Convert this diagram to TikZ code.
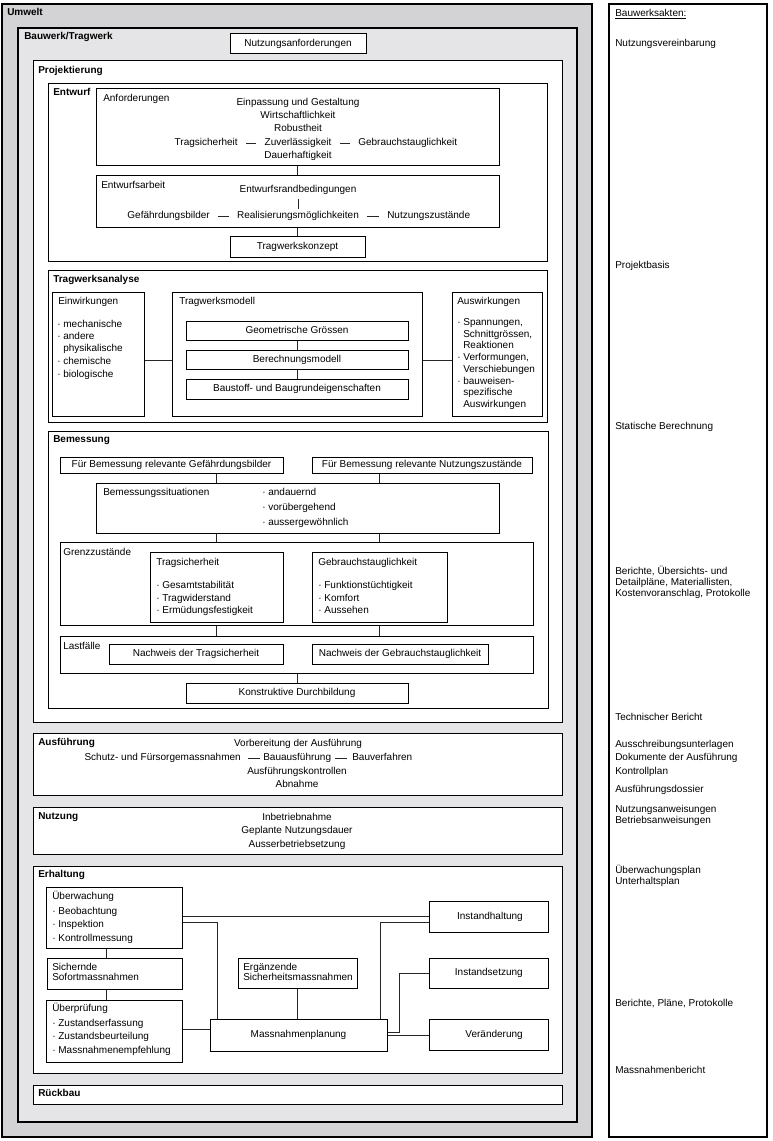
\documentclass[tikz,border=0pt]{standalone}
\usepackage{fontspec}
\setmainfont{Liberation Sans}
\usetikzlibrary{fit}
\definecolor{umg}{RGB}{211,211,213}
\definecolor{bwg}{RGB}{229,229,231}
\newcommand\mkbox[7][]{\node[boxst,#1,fit={(#3,#4)(#5,#6)}] (#2) {};
  \node[tx] (#2T) at (#2.center) {#7};}
\begin{document}
\begin{tikzpicture}[x=0.75pt,y=-0.75pt,
  boxst/.style={draw=black, line width=0.75pt, fill=white, inner sep=0pt},
  tx/.style={inner sep=0pt, font=\fontsize{7.5pt}{9pt}\selectfont, text height=5.4pt, text depth=1.6pt},
  lt/.style={tx, anchor=west},
  hd/.style={lt, font=\fontsize{7.5pt}{9pt}\selectfont\bfseries},
  con/.style={draw=black!85, line width=0.6pt},
  dsh/.style={con, shorten <=6pt, shorten >=6pt}]
\useasboundingbox (0,0) rectangle (772,1141);

% ---------- containers
\mkbox[fill=umg, line width=0.9pt]{umw}{2}{4}{592}{1137}{}
\node[hd] (umwL) at (7,13) {Umwelt};
\mkbox[fill=bwg, line width=0.9pt]{bw}{18}{28}{577}{1122}{}
\node[hd] (bwL) at (24,37) {Bauwerk/Tragwerk};
\mkbox{nutzanf}{230}{34}{366}{54}{Nutzungsanforderungen}
\mkbox{proj}{33}{61}{562}{722}{}
\node[hd] (projL) at (38,71) {Projektierung};

% ---------- Entwurf
\mkbox{entw}{48}{84}{547}{261}{}
\node[hd] (entwL) at (53,93) {Entwurf};
\mkbox{anf}{96}{89}{499}{166}{}
\node[lt] (anfL) at (103,99) {Anforderungen};
\node[tx] (a1) at (298,103) {Einpassung und Gestaltung};
\node[tx] (a2) at (298,116) {Wirtschaftlichkeit};
\node[tx] (a3) at (298,129) {Robustheit};
\node[tx] (a4) at (298,143) {Zuverlässigkeit};
\node[tx, anchor=east] (a4l) at (238,143) {Tragsicherheit};
\node[tx, anchor=west] (a4r) at (358,143) {Gebrauchstauglichkeit};
\node[tx] (a5) at (298,156) {Dauerhaftigkeit};
\mkbox{ea}{96}{176}{499}{228}{}
\node[lt] (eaL) at (101,186) {Entwurfsarbeit};
\node[tx] (e1) at (298,190) {Entwurfsrandbedingungen};
\node[tx] (e2) at (298,216) {Realisierungsmöglichkeiten};
\node[tx, anchor=east] (e2l) at (210,216) {Gefährdungsbilder};
\node[tx, anchor=west] (e2r) at (387,216) {Nutzungszustände};
\mkbox{tk}{230}{237}{365}{257}{Tragwerkskonzept}

% ---------- Tragwerksanalyse
\mkbox{ta}{48}{270}{547}{422}{}
\node[hd] (taL) at (53,280) {Tragwerksanalyse};
\mkbox{einw}{52}{292}{144}{416}{}
\node[lt] (einwL) at (58,302) {Einwirkungen};
\node[lt] (w1) at (57,325) {· mechanische};
\node[lt] (w2) at (57,337) {· andere};
\node[lt] (w3) at (63,349) {physikalische};
\node[lt] (w4) at (57,362) {· chemische};
\node[lt] (w5) at (57,375) {· biologische};
\mkbox{tm}{172}{292}{422}{416}{}
\node[lt] (tmL) at (179,302) {Tragwerksmodell};
\mkbox{gg}{186}{321}{408}{340}{Geometrische Grössen}
\mkbox{bm}{186}{350}{408}{369}{Berechnungsmodell}
\mkbox{bb}{186}{379}{408}{399}{Baustoff- und Baugrundeigenschaften}
\mkbox{ausw}{452}{292}{542}{416}{}
\node[lt] (auL) at (457,302) {Auswirkungen};
\node[lt] (u1) at (457,323) {· Spannungen,};
\node[lt] (u2) at (463,335) {Schnittgrössen,};
\node[lt] (u3) at (463,346) {Reaktionen};
\node[lt] (u4) at (457,358) {· Verformungen,};
\node[lt] (u5) at (463,370) {Verschiebungen};
\node[lt] (u6) at (457,382) {· bauweisen-};
\node[lt] (u7) at (463,393) {spezifische};
\node[lt] (u8) at (463,405) {Auswirkungen};

% ---------- Bemessung
\mkbox{bem}{48}{431}{548}{708}{}
\node[hd] (bemL) at (53,440) {Bemessung};
\mkbox{relG}{60}{457}{283}{473}{Für Bemessung relevante Gefährdungsbilder}
\mkbox{relN}{312}{457}{532}{473}{Für Bemessung relevante Nutzungszustände}
\mkbox{bs}{96}{483}{499}{533}{}
\node[lt] (bsL) at (103,493) {Bemessungssituationen};
\node[lt] (s1) at (262,493) {· andauernd};
\node[lt] (s2) at (262,508) {· vorübergehend};
\node[lt] (s3) at (262,523) {· aussergewöhnlich};
\mkbox{gz}{60}{542}{533}{625}{}
\node[lt] (gzL) at (63,553) {Grenzzustände};
\mkbox{ts}{150}{552}{283}{622}{}
\node[lt] (tsL) at (156,563) {Tragsicherheit};
\node[lt] (t1) at (156,586) {· Gesamtstabilität};
\node[lt] (t2) at (156,599) {· Tragwiderstand};
\node[lt] (t3) at (156,611) {· Ermüdungsfestigkeit};
\mkbox{gt}{312}{552}{447}{622}{}
\node[lt] (gtL) at (318,563) {Gebrauchstauglichkeit};
\node[lt] (g1) at (318,586) {· Funktionstüchtigkeit};
\node[lt] (g2) at (318,599) {· Komfort};
\node[lt] (g3) at (318,611) {· Aussehen};
\mkbox{lf}{60}{636}{533}{673}{}
\node[lt] (lfL) at (63,647) {Lastfälle};
\mkbox{nt}{109}{644}{283}{664}{Nachweis der Tragsicherheit}
\mkbox{ng}{312}{644}{488}{664}{Nachweis der Gebrauchstauglichkeit}
\mkbox{kd}{186}{683}{408}{703}{Konstruktive Durchbildung}

% ---------- Ausführung
\mkbox{ausf}{33}{733}{562}{795}{}
\node[hd] (ausfL) at (38,743) {Ausführung};
\node[tx] (f1) at (298,744) {Vorbereitung der Ausführung};
\node[tx, anchor=west] (f2) at (263,758) {Bauausführung};
\node[tx, anchor=east] (f2l) at (241,758) {Schutz- und Fürsorgemassnahmen};
\node[tx, anchor=west] (f2r) at (352,758) {Bauverfahren};
\node[tx] (f3) at (297,772) {Ausführungskontrollen};
\node[tx] (f4) at (297,785) {Abnahme};

% ---------- Nutzung
\mkbox{nutz}{33}{807}{562}{854}{}
\node[hd] (nutzL) at (38,817) {Nutzung};
\node[tx] (n1) at (297,818) {Inbetriebnahme};
\node[tx] (n2) at (297,831) {Geplante Nutzungsdauer};
\node[tx] (n3) at (297,845) {Ausserbetriebsetzung};

% ---------- Erhaltung
\mkbox{erh}{33}{866}{562}{1073}{}
\node[hd] (erhL) at (38,875) {Erhaltung};
\mkbox{uw}{46}{887}{182}{948}{}
\node[lt] (uwL) at (52,897) {Überwachung};
\node[lt] (o1) at (52,912) {· Beobachtung};
\node[lt] (o2) at (52,925) {· Inspektion};
\node[lt] (o3) at (52,939) {· Kontrollmessung};
\mkbox{sf}{47}{958}{182}{989}{}
\node[lt] (sf1) at (52,968) {Sichernde};
\node[lt] (sf2) at (52,978) {Sofortmassnahmen};
\mkbox{up}{46}{1000}{182}{1062}{}
\node[lt] (upL) at (52,1009) {Überprüfung};
\node[lt] (p1) at (52,1024) {· Zustandserfassung};
\node[lt] (p2) at (52,1037) {· Zustandsbeurteilung};
\node[lt] (p3) at (52,1051) {· Massnahmenempfehlung};
\mkbox{erg}{238}{958}{357}{988}{}
\node[lt] (erg1) at (243,968) {Ergänzende};
\node[lt] (erg2) at (243,978) {Sicherheitsmassnahmen};
\mkbox{mp}{210}{1019}{387}{1051}{Massnahmenplanung}
\mkbox{ih}{429}{901}{548}{932}{}
\node[tx, anchor=east] (ihL) at (523,917) {Instandhaltung};
\mkbox{is}{429}{958}{548}{988}{}
\node[tx, anchor=east] (isL) at (523,973) {Instandsetzung};
\mkbox{ve}{429}{1019}{548}{1050}{}
\node[tx, anchor=east] (veL) at (523,1035) {Veränderung};

% ---------- Rückbau
\mkbox{rb}{33}{1085}{562}{1104}{}
\node[hd] (rbL) at (38,1094) {Rückbau};

% ---------- Bauwerksakten
\mkbox[line width=0.9pt]{akt}{609}{4}{767}{1137}{}
\node[lt] (k0) at (615,14) {\underline{Bauwerksakten:}};
\node[lt] (k1) at (615,44) {Nutzungsvereinbarung};
\node[lt] (k2) at (615,266) {Projektbasis};
\node[lt] (k3) at (615,427) {Statische Berechnung};
\node[lt] (k4a) at (615,572) {Berichte, Übersichts- und};
\node[lt] (k4b) at (615,583) {Detailpläne, Materiallisten,};
\node[lt] (k4c) at (615,594) {Kostenvoranschlag, Protokolle};
\node[lt] (k5) at (615,718) {Technischer Bericht};
\node[lt] (k6) at (615,745) {Ausschreibungsunterlagen};
\node[lt] (k7) at (615,758) {Dokumente der Ausführung};
\node[lt] (k8) at (615,772) {Kontrollplan};
\node[lt] (k9) at (615,790) {Ausführungsdossier};
\node[lt] (k10a) at (615,810) {Nutzungsanweisungen};
\node[lt] (k10b) at (615,821) {Betriebsanweisungen};
\node[lt] (k11a) at (615,871) {Überwachungsplan};
\node[lt] (k11b) at (615,882) {Unterhaltsplan};
\node[lt] (k12) at (615,1004) {Berichte, Pläne, Protokolle};
\node[lt] (k13) at (615,1071) {Massnahmenbericht};

% ---------- connectors
\draw[con] (anf.south) -- (ea.north);
\draw[con] (ea.south) -- (tk.north);
\draw[con, shorten <=3.2pt, shorten >=1.7pt] (e1.south) -- (e2.north);
\draw[dsh] (a4l.east) -- (a4.west);
\draw[dsh] (a4.east) -- (a4r.west);
\draw[dsh] (e2l.east) -- (e2.west);
\draw[dsh] (e2.east) -- (e2r.west);
\draw[con, shorten <=5pt, shorten >=2.2pt] (f2l.east) -- (f2.west);
\draw[con, shorten <=3pt, shorten >=4pt] (f2.east) -- (f2r.west);

\draw[con] ([yshift=-4.5pt]einw.east) -- ([yshift=-4.5pt]tm.west);
\draw[con] ([yshift=-4.5pt]tm.east) -- ([yshift=-4.5pt]ausw.west);
\draw[con] (gg.south) -- (bm.north);
\draw[con] (bm.south) -- (bb.north);

\draw[con] (ts.center |- relG.south) -- (ts.center |- bs.north);
\draw[con] (gt.center |- relN.south) -- (gt.center |- bs.north);
\draw[con] (ts.center |- bs.south) -- (ts.center |- gz.north);
\draw[con] (gt.center |- bs.south) -- (gt.center |- gz.north);
\draw[con] (ts.center |- gz.south) -- (ts.center |- lf.north);
\draw[con] (gt.center |- gz.south) -- (gt.center |- lf.north);
\draw[con] (kd.north |- lf.south) -- (kd.north);

\draw[con] ([xshift=-6pt]uw.south) -- ([xshift=-6pt]uw.south |- sf.north);
\draw[con] ([xshift=-6pt]uw.south |- sf.south) -- ([xshift=-6pt]uw.south |- up.north);
\draw[con] (uw.east |- ih.west) -- (ih.west);
\draw[con] ([yshift=-3.4pt]uw.east) -| ([xshift=6pt]mp.north west);
\draw[con] ([xshift=-5.25pt]mp.north east) |- ([yshift=-4.1pt]ih.west);
\draw[con] (erg.south) -- (erg.south |- mp.north);
\draw[con] ([yshift=1.5pt]up.east) -- ([yshift=1.5pt]up.east -| mp.west);
\draw[con] ([yshift=2.25pt]mp.east) -- ++(12,0) |- (is.west);
\draw[con] (mp.east) -- (mp.east -| ve.west);
\end{tikzpicture}
\end{document}
